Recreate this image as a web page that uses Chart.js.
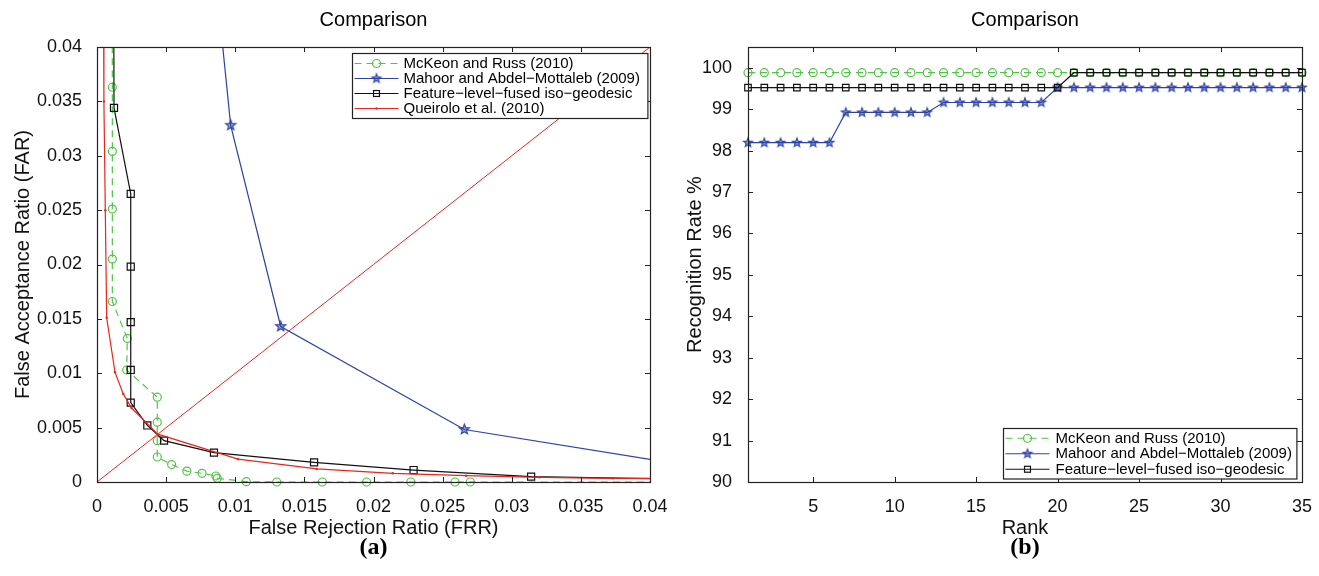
<!DOCTYPE html>
<html>
<head>
<meta charset="utf-8">
<title>Comparison</title>
<script src="https://cdn.jsdelivr.net/npm/chart.js@4.4.1/dist/chart.umd.min.js"></script>
<style>
  html, body { margin: 0; padding: 0; background: #fff; }
  #wrap { position: relative; width: 1319px; height: 576px; overflow: hidden; }
  .panel { position: absolute; top: 0; height: 576px; }
  #panelA { left: 0; width: 675px; }
  #panelB { left: 675px; width: 644px; }
</style>
</head>
<body>
<div id="wrap">
  <div class="panel" id="panelA"><canvas id="chartFar"></canvas></div>
  <div class="panel" id="panelB"><canvas id="chartRank"></canvas></div>
</div>
<script>
// ---- (a) FAR vs FRR ----
const mckeonFrr = [0.00109, 0.00111, 0.00111, 0.00111, 0.00111, 0.00111, 0.00219, 0.00215, 0.00436, 0.00436, 0.00436, 0.00436, 0.0054, 0.0065, 0.0076, 0.0086, 0.0087, 0.0108, 0.0130, 0.0163, 0.0195, 0.0227, 0.0259, 0.0270, 0.045];
const mckeonFar = [0.05, 0.0363, 0.0304, 0.0251, 0.0205, 0.0166, 0.0132, 0.0103, 0.0078, 0.0055, 0.0038, 0.0023, 0.0016, 0.0010, 0.0008, 0.00055, 0.00034, 0.00003, 0, 0, 0, 0, 0, 0, 0];

const mahoorFrr = [0.0083, 0.00967, 0.01329, 0.02657, 0.045];
const mahoorFar = [0.05, 0.0328, 0.0143, 0.00483, 0.00106];

const fusedFrr = [0.0012, 0.00123, 0.00244, 0.00244, 0.00244, 0.00244, 0.00244, 0.00364, 0.00485, 0.00846, 0.0157, 0.0229, 0.0314, 0.045];
const fusedFar = [0.05, 0.0344, 0.0265, 0.0198, 0.0147, 0.0103, 0.0073, 0.0052, 0.0038, 0.0027, 0.0018, 0.0011, 0.0005, 0.0002];

const queiroloFrr = [0.00045, 0.0005, 0.0006, 0.0007, 0.0013, 0.0019, 0.0025, 0.0044, 0.0102, 0.0159, 0.0214, 0.0267, 0.032, 0.0373, 0.045];
const queiroloFar = [0.05, 0.035, 0.025, 0.0151, 0.0101, 0.0081, 0.0068, 0.0044, 0.0021, 0.0012, 0.0008, 0.00058, 0.00043, 0.00034, 0.0003];

// equal error line
const eerFrr = [0, 0.04];
const eerFar = [0, 0.04];

const ratioTicks = [0, 0.005, 0.01, 0.015, 0.02, 0.025, 0.03, 0.035, 0.04];
const ratioTickLabels = ['0', '0.005', '0.01', '0.015', '0.02', '0.025', '0.03', '0.035', '0.04'];

// ---- (b) CMC ----
const ranks = [1, 2, 3, 4, 5, 6, 7, 8, 9, 10, 11, 12, 13, 14, 15, 16, 17, 18, 19, 20, 21, 22, 23, 24, 25, 26, 27, 28, 29, 30, 31, 32, 33, 34, 35];
const mckeonRate = [99.88, 99.88, 99.88, 99.88, 99.88, 99.88, 99.88, 99.88, 99.88, 99.88, 99.88, 99.88, 99.88, 99.88, 99.88, 99.88, 99.88, 99.88, 99.88, 99.88, 99.88, 99.88, 99.88, 99.88, 99.88, 99.88, 99.88, 99.88, 99.88, 99.88, 99.88, 99.88, 99.88, 99.88, 99.88];
const mahoorRate = [98.19, 98.19, 98.19, 98.19, 98.19, 98.19, 98.92, 98.92, 98.92, 98.92, 98.92, 98.92, 99.16, 99.16, 99.16, 99.16, 99.16, 99.16, 99.16, 99.52, 99.52, 99.52, 99.52, 99.52, 99.52, 99.52, 99.52, 99.52, 99.52, 99.52, 99.52, 99.52, 99.52, 99.52, 99.52];
const fusedRate = [99.52, 99.52, 99.52, 99.52, 99.52, 99.52, 99.52, 99.52, 99.52, 99.52, 99.52, 99.52, 99.52, 99.52, 99.52, 99.52, 99.52, 99.52, 99.52, 99.52, 99.88, 99.88, 99.88, 99.88, 99.88, 99.88, 99.88, 99.88, 99.88, 99.88, 99.88, 99.88, 99.88, 99.88, 99.88];

const rankTicks = [5, 10, 15, 20, 25, 30, 35];
const rateTicks = [90, 91, 92, 93, 94, 95, 96, 97, 98, 99, 100];

const GREEN = '#52c447';
const BLUE = '#2e42a5';
const BLACK = '#111111';
const RED = '#e8261e';
const AXIS = '#222222';
const SANS = "'Liberation Sans', Arial, Helvetica, sans-serif";

function zip(xs, ys) {
    return xs.map((x, i) => ({ x: x, y: ys[i] }));
}

// five pointed star marker, drawn once into a small canvas
function makeStar(color, r) {
    const size = Math.ceil(r * 2 + 4);
    const c = document.createElement('canvas');
    c.width = size;
    c.height = size;
    const g = c.getContext('2d');
    g.beginPath();
    for (let k = 0; k < 10; k++) {
        const rad = k % 2 === 0 ? r : r * 0.42;
        const a = -Math.PI / 2 + k * Math.PI / 5;
        const px = size / 2 + rad * Math.cos(a);
        const py = size / 2 + rad * Math.sin(a);
        if (k === 0) g.moveTo(px, py); else g.lineTo(px, py);
    }
    g.closePath();
    g.fillStyle = 'rgba(46,66,165,0.45)';
    g.fill();
    g.lineWidth = 1.2;
    g.strokeStyle = color;
    g.stroke();
    return c;
}

const starBig = makeStar(BLUE, 5.2);
const starSmall = makeStar(BLUE, 4.6);

function drawMarker(ctx, ds, x, y) {
    const r = ds.pointRadius;
    ctx.save();
    ctx.setLineDash([]);
    ctx.strokeStyle = ds.pointBorderColor || ds.borderColor;
    ctx.fillStyle = ds.borderColor;
    ctx.lineWidth = ds.pointBorderWidth || 1;
    if (ds.pointStyle === 'circle' && ds.pointBackgroundColor === 'rgba(0,0,0,0)') {
        ctx.beginPath();
        ctx.arc(x, y, r, 0, Math.PI * 2);
        ctx.stroke();
    } else if (ds.pointStyle === 'circle') {
        ctx.beginPath();
        ctx.arc(x, y, r, 0, Math.PI * 2);
        ctx.fill();
    } else if (ds.pointStyle === 'rect') {
        const h = r * Math.SQRT1_2;
        ctx.strokeRect(x - h, y - h, 2 * h, 2 * h);
    } else if (ds.pointStyle instanceof HTMLCanvasElement) {
        const img = ds.pointStyle;
        ctx.drawImage(img, x - img.width / 2, y - img.height / 2);
    }
    ctx.restore();
}

// box, inward ticks, titles and boxed legend
const framePlugin = {
    id: 'frame',
    afterDatasetsDraw(chart, args, opts) {
        const { ctx, chartArea: a } = chart;
        const xs = chart.scales.x;
        const ys = chart.scales.y;
        const len = 5;
        ctx.save();
        ctx.strokeStyle = AXIS;
        ctx.lineWidth = 1;
        ctx.beginPath();
        xs.ticks.forEach((t) => {
            const px = Math.round(xs.getPixelForValue(t.value)) + 0.5;
            ctx.moveTo(px, a.bottom);
            ctx.lineTo(px, a.bottom - len);
            ctx.moveTo(px, a.top);
            ctx.lineTo(px, a.top + len);
        });
        ys.ticks.forEach((t) => {
            const py = Math.round(ys.getPixelForValue(t.value)) + 0.5;
            ctx.moveTo(a.left, py);
            ctx.lineTo(a.left + len, py);
            ctx.moveTo(a.right, py);
            ctx.lineTo(a.right - len, py);
        });
        ctx.stroke();
        ctx.lineWidth = 1.2;
        ctx.strokeRect(Math.round(a.left) + 0.5, Math.round(a.top) + 0.5, Math.round(a.width), Math.round(a.height));
        ctx.restore();
    },
    afterDraw(chart, args, opts) {
        const { ctx, chartArea: a } = chart;
        const cx = (a.left + a.right) / 2;
        ctx.save();
        ctx.fillStyle = '#000';
        ctx.textAlign = 'center';
        ctx.textBaseline = 'middle';
        ctx.font = '20px ' + SANS;
        ctx.fillText(opts.title, cx, 20);
        ctx.font = 'bold 24px "Liberation Serif", "Times New Roman", serif';
        ctx.fillText(opts.tag, cx, 548);

        // legend
        const items = chart.data.datasets.filter((d) => d.inLegend !== false);
        const lg = opts.legend;
        ctx.font = '15px ' + SANS;
        const textW = Math.max(...items.map((d) => ctx.measureText(d.label).width));
        const boxW = lg.padL + lg.sampleW + lg.gap + textW + lg.padR;
        const boxH = items.length * lg.rowH + 2 * lg.padV;
        const bx = Math.round(a.right - lg.right - boxW) + 0.5;
        const by = lg.top !== undefined ? Math.round(a.top + lg.top) + 0.5 : Math.round(a.bottom - lg.bottom - boxH) + 0.5;
        ctx.fillStyle = '#fff';
        ctx.fillRect(bx, by, boxW, boxH);
        ctx.strokeStyle = AXIS;
        ctx.lineWidth = 1.2;
        ctx.strokeRect(bx, by, boxW, boxH);
        items.forEach((d, i) => {
            const y = by + lg.padV + lg.rowH * (i + 0.5);
            const x0 = bx + lg.padL;
            ctx.save();
            ctx.strokeStyle = d.borderColor;
            ctx.lineWidth = d.borderWidth;
            ctx.setLineDash(d.borderDash || []);
            ctx.beginPath();
            ctx.moveTo(x0, y);
            ctx.lineTo(x0 + lg.sampleW, y);
            ctx.stroke();
            ctx.restore();
            drawMarker(ctx, d.legendMarker || d, x0 + lg.sampleW / 2, y);
            ctx.fillStyle = '#000';
            ctx.textAlign = 'left';
            ctx.textBaseline = 'middle';
            ctx.fillText(d.label, x0 + lg.sampleW + lg.gap, y + 0.5);
        });
        ctx.restore();
    }
};

function fixedTicks(values) {
    return (axis) => { axis.ticks = values.map((v) => ({ value: v })); };
}

const tickFont = { family: SANS, size: 18 };
const titleFont = { family: SANS, size: 20 };

// ---------- chart (a) ----------
new Chart(document.getElementById('chartFar'), {
    type: 'scatter',
    data: {
        datasets: [
            {
                label: 'McKeon and Russ (2010)',
                data: zip(mckeonFrr, mckeonFar),
                showLine: true,
                borderColor: GREEN,
                borderWidth: 1.2,
                borderDash: [7, 5],
                pointStyle: 'circle',
                pointRadius: 4,
                pointBorderColor: GREEN,
                pointBackgroundColor: 'rgba(0,0,0,0)',
                pointBorderWidth: 1.2,
                clip: { left: 0, top: 0, right: 0, bottom: 6 },
                order: 5
            },
            {
                label: 'Mahoor and Abdel\u2212Mottaleb (2009)',
                data: zip(mahoorFrr, mahoorFar),
                showLine: true,
                borderColor: BLUE,
                borderWidth: 1.2,
                pointStyle: starBig,
                pointRadius: 5,
                clip: { left: 0, top: 0, right: 0, bottom: 6 },
                legendMarker: { pointStyle: starSmall, pointRadius: 4.6, borderColor: BLUE },
                order: 4
            },
            {
                label: 'Feature\u2212level\u2212fused iso\u2212geodesic',
                data: zip(fusedFrr, fusedFar),
                showLine: true,
                borderColor: BLACK,
                borderWidth: 1.2,
                pointStyle: 'rect',
                pointRadius: 5,
                pointBorderColor: BLACK,
                pointBackgroundColor: 'rgba(0,0,0,0)',
                pointBorderWidth: 1.2,
                clip: { left: 0, top: 0, right: 0, bottom: 6 },
                legendMarker: { pointStyle: 'rect', pointRadius: 4.2, borderColor: BLACK, pointBorderWidth: 1.2, pointBackgroundColor: 'rgba(0,0,0,0)' },
                order: 3
            },
            {
                label: 'Queirolo et al. (2010)',
                data: zip(queiroloFrr, queiroloFar),
                showLine: true,
                borderColor: RED,
                borderWidth: 1.2,
                pointStyle: 'circle',
                pointRadius: 1.2,
                pointBorderWidth: 0,
                pointBackgroundColor: RED,
                clip: { left: 0, top: 0, right: 0, bottom: 6 },
                order: 2
            },
            {
                label: 'EER',
                inLegend: false,
                data: zip(eerFrr, eerFar),
                showLine: true,
                borderColor: RED,
                borderWidth: 1,
                pointRadius: 0,
                order: 1
            }
        ]
    },
    options: {
        responsive: true,
        maintainAspectRatio: false,
        animation: false,
        devicePixelRatio: 1,
        layout: { padding: { top: 47, right: 25, bottom: 0, left: 0 } },
        plugins: {
            legend: { display: false },
            tooltip: { enabled: false },
            frame: {
                title: 'Comparison',
                tag: '(a)',
                legend: { right: 3, top: 6, rowH: 15, padV: 2.5, padL: 2, sampleW: 44, gap: 5, padR: 8 }
            }
        },
        scales: {
            x: {
                type: 'linear',
                min: 0,
                max: 0.04,
                afterBuildTicks: fixedTicks(ratioTicks),
                afterFit: (scale) => { scale.height = 94; },
                grid: { display: false },
                border: { display: false },
                ticks: {
                    font: tickFont,
                    color: '#111',
                    padding: 6,
                    maxRotation: 0,
                    autoSkip: false,
                    callback: (v, i) => ratioTickLabels[i]
                },
                title: { display: true, text: 'False Rejection Ratio (FRR)', font: titleFont, color: '#111', padding: { top: 0, bottom: 36 } }
            },
            y: {
                type: 'linear',
                min: 0,
                max: 0.04,
                afterBuildTicks: fixedTicks(ratioTicks),
                afterFit: (scale) => { scale.width = 97; },
                grid: { display: false },
                border: { display: false },
                ticks: {
                    font: tickFont,
                    color: '#111',
                    padding: 7,
                    autoSkip: false,
                    callback: (v, i) => ratioTickLabels[i]
                },
                title: { display: true, text: 'False Acceptance Ratio (FAR)', font: titleFont, color: '#111', padding: { top: 11, bottom: 0 } }
            }
        }
    },
    plugins: [framePlugin]
});

// ---------- chart (b) ----------
new Chart(document.getElementById('chartRank'), {
    type: 'scatter',
    data: {
        datasets: [
            {
                label: 'McKeon and Russ (2010)',
                data: zip(ranks, mckeonRate),
                showLine: true,
                borderColor: GREEN,
                borderWidth: 1.2,
                borderDash: [7, 5],
                pointStyle: 'circle',
                pointRadius: 4,
                pointBorderColor: GREEN,
                pointBackgroundColor: 'rgba(0,0,0,0)',
                pointBorderWidth: 1.2,
                clip: false,
                order: 4
            },
            {
                label: 'Mahoor and Abdel\u2212Mottaleb (2009)',
                data: zip(ranks, mahoorRate),
                showLine: true,
                borderColor: BLUE,
                borderWidth: 1.2,
                pointStyle: starSmall,
                pointRadius: 4.6,
                clip: false,
                order: 3
            },
            {
                label: 'Feature\u2212level\u2212fused iso\u2212geodesic',
                data: zip(ranks, fusedRate),
                showLine: true,
                borderColor: BLACK,
                borderWidth: 1.2,
                pointStyle: 'rect',
                pointRadius: 4.6,
                pointBorderColor: BLACK,
                pointBackgroundColor: 'rgba(0,0,0,0)',
                pointBorderWidth: 1.2,
                clip: false,
                legendMarker: { pointStyle: 'rect', pointRadius: 4.2, borderColor: BLACK, pointBorderWidth: 1.2, pointBackgroundColor: 'rgba(0,0,0,0)' },
                order: 2
            }
        ]
    },
    options: {
        responsive: true,
        maintainAspectRatio: false,
        animation: false,
        devicePixelRatio: 1,
        layout: { padding: { top: 47, right: 17, bottom: 0, left: 0 } },
        plugins: {
            legend: { display: false },
            tooltip: { enabled: false },
            frame: {
                title: 'Comparison',
                tag: '(b)',
                legend: { right: 6, bottom: 4, rowH: 15.5, padV: 2, padL: 2, sampleW: 44, gap: 6, padR: 5 }
            }
        },
        scales: {
            x: {
                type: 'linear',
                min: 1,
                max: 35,
                afterBuildTicks: fixedTicks(rankTicks),
                afterFit: (scale) => { scale.height = 94; },
                grid: { display: false },
                border: { display: false },
                ticks: { font: tickFont, color: '#111', padding: 6, maxRotation: 0, autoSkip: false },
                title: { display: true, text: 'Rank', font: titleFont, color: '#111', padding: { top: 0, bottom: 36 } }
            },
            y: {
                type: 'linear',
                min: 90,
                max: 100.5,
                afterBuildTicks: fixedTicks(rateTicks),
                afterFit: (scale) => { scale.width = 73; },
                grid: { display: false },
                border: { display: false },
                ticks: { font: tickFont, color: '#111', padding: 8, autoSkip: false },
                title: { display: true, text: 'Recognition Rate %', font: titleFont, color: '#111', padding: { top: 8, bottom: 0 } }
            }
        }
    },
    plugins: [framePlugin]
});
</script>
</body>
</html>
